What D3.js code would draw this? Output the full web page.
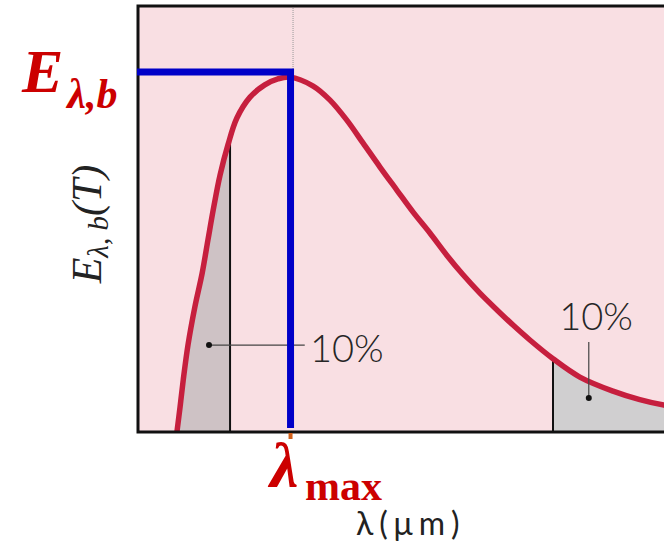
<!DOCTYPE html>
<html>
<head>
<meta charset="utf-8">
<script src="https://cdn.jsdelivr.net/npm/d3@7"></script>
<style>
body { margin: 0; background: #fff; }
svg { display: block; }
</style>
</head>
<body>
<svg id="chart" width="664" height="544"></svg>
<script>
// Curve, both axes in relative units 0..100
const lambda = [7.4, 8.0, 8.6, 9.5, 10.8, 12.2, 13.3, 14.4, 15.6, 17.1, 18.8, 21.3, 24.1, 26.6, 28.9,
                33.3, 36.5, 39.7, 42.8, 46.0, 49.2, 52.3, 55.5, 58.7, 61.8, 65.0, 68.3, 71.3, 74.5,
                78.9, 84.0, 90.3, 95.4, 100, 105]
const energy = [0, 5.9, 12.2, 20.4, 29.3, 37.3, 45.1, 52.8, 60.3, 67.4, 73.7, 78.6, 81.5, 82.9, 83.3,
                81.2, 77.9, 73.2, 67.8, 62.2, 56.8, 51.6, 46.7, 41.5, 36.9, 32.6, 28.6, 25.1, 21.6,
                17.2, 12.9, 9.6, 7.6, 6.3, 5.3]
const lambdaMax = 29.0, eMax = 84.5
// the two 10% tails
const tails = [[7.4, 17.5], [78.9, 105]]
const tailFill = ['#cec2c5', '#d0cfd0']
const tailLabels = ['10%', '10%']

const svg = d3.select('#chart')
const x = d3.scaleLinear([0, 100], [138, 664])
const y = d3.scaleLinear([0, 100], [432, 6])
const pts = lambda.map((l, i) => [l, energy[i]])

const yAt = l => {
    let i = d3.bisector(d => d[0]).left(pts, l)
    if (i <= 0) return pts[0][1]
    if (i >= pts.length) return pts[pts.length-1][1]
    let a = pts[i-1], b = pts[i]
    return a[1] + (b[1] - a[1]) * (l - a[0]) / (b[0] - a[0])
}

/* Plot background */
svg.append('rect')
    .attr('x', x(0)).attr('y', y(100))
    .attr('width', 540).attr('height', y(0) - y(100))
    .attr('fill', '#f9dfe3')

/* Dotted guide up from the peak */
svg.append('line')
    .attr('x1', x(lambdaMax) + 2.5).attr('x2', x(lambdaMax) + 2.5)
    .attr('y1', y(100)).attr('y2', y(eMax))
    .attr('stroke', '#999').attr('stroke-width', 1).attr('stroke-dasharray', '1,1')

/* Shaded tails */
const area = d3.area().x(d => x(d[0])).y0(y(0)).y1(d => y(d[1])).curve(d3.curveCatmullRom)
tails.forEach((t, i) => {
    svg.append('clipPath').attr('id', 'tail' + i)
        .append('rect')
        .attr('x', x(t[0])).attr('y', 0)
        .attr('width', x(t[1]) - x(t[0])).attr('height', y(0))
    svg.append('path')
        .datum(pts)
        .attr('d', area)
        .attr('fill', tailFill[i])
        .attr('clip-path', `url(#tail${i})`)
})
// inner edges of the tails
;[tails[0][1], tails[1][0]].forEach(l => {
    svg.append('line')
        .attr('x1', x(l)).attr('x2', x(l))
        .attr('y1', y(0)).attr('y2', y(yAt(l)))
        .attr('stroke', '#111').attr('stroke-width', 2)
})

/* Curve */
svg.append('path')
    .datum(pts)
    .attr('d', d3.line().x(d => x(d[0])).y(d => y(d[1])).curve(d3.curveCatmullRom))
    .attr('fill', 'none')
    .attr('stroke', '#c61f3e')
    .attr('stroke-width', 5.5)

/* Frame */
svg.append('path')
    .attr('d', `M${x(100) + 10},${y(100)} H${x(0)} V${y(0)} H${x(100) + 10}`)
    .attr('fill', 'none').attr('stroke', '#111').attr('stroke-width', 3)

/* 10% labels with leaders */
const lbl = (sel, t) => sel.text(t)
    .attr('font-family', 'Lato, "Open Sans", sans-serif')
    .attr('font-weight', 300)
    .attr('font-size', 38)
    .attr('fill', '#262626')

svg.append('line')
    .attr('x1', x(13.5)).attr('x2', x(31.7))
    .attr('y1', y(20.4)).attr('y2', y(20.4))
    .attr('stroke', '#444').attr('stroke-width', 1.2)
svg.append('circle').attr('cx', x(13.5)).attr('cy', y(20.4)).attr('r', 3).attr('fill', '#111')
lbl(svg.append('text'), tailLabels[0])
    .attr('x', x(32.7)).attr('y', y(16.4))

svg.append('line')
    .attr('x1', x(85.7)).attr('x2', x(85.7))
    .attr('y1', y(21.1)).attr('y2', y(8.0))
    .attr('stroke', '#444').attr('stroke-width', 1.2)
svg.append('circle').attr('cx', x(85.7)).attr('cy', y(8.0)).attr('r', 3).attr('fill', '#111')
lbl(svg.append('text'), tailLabels[1])
    .attr('x', x(87.1)).attr('y', y(23.9))
    .attr('text-anchor', 'middle')

/* Blue peak markers */
svg.append('path')
    .attr('d', `M${x(0) - 1},${y(eMax)} H${x(lambdaMax)} V${y(0) - 4}`)
    .attr('fill', 'none')
    .attr('stroke', '#0000c8')
    .attr('stroke-width', 7)
    .attr('stroke-linejoin', 'miter')
svg.append('line')
    .attr('x1', x(lambdaMax)).attr('x2', x(lambdaMax))
    .attr('y1', y(0) + 1).attr('y2', y(0) + 7)
    .attr('stroke', '#d2601a').attr('stroke-width', 4)

/* Red labels */
const red = '#cc0000', serif = '"Liberation Serif", "Times New Roman", serif'
let eLbl = svg.append('text')
    .attr('x', 22).attr('y', 92)
    .attr('font-family', serif).attr('font-weight', 'bold').attr('font-style', 'italic')
    .attr('fill', red)
eLbl.append('tspan').attr('font-size', 62).text('E')
eLbl.append('tspan').attr('font-size', 42).attr('dx', 4).attr('dy', 16).text('λ,b')

let mLbl = svg.append('text')
    .attr('font-family', serif).attr('font-weight', 'bold')
    .attr('fill', red)
mLbl.append('tspan').attr('x', 270).attr('y', 487)
    .attr('font-size', 64).attr('font-style', 'italic').text('λ')
mLbl.append('tspan').attr('x', 305).attr('y', 500)
    .attr('font-size', 42).text('max')

/* Axis titles */
svg.append('text')
    .attr('x', 356).attr('y', 535)
    .attr('font-family', 'Lato, "DejaVu Sans", sans-serif')
    .attr('font-size', 32)
    .attr('letter-spacing', 6)
    .attr('fill', '#222')
    .text('λ(μm)')

let yLbl = svg.append('text')
    .attr('transform', 'translate(101,224) rotate(-90)')
    .attr('text-anchor', 'middle')
    .attr('font-family', serif).attr('font-style', 'italic')
    .attr('font-size', 42)
    .attr('fill', '#222')
yLbl.append('tspan').text('E')
yLbl.append('tspan').attr('font-size', 29).attr('dy', 7).text('λ, b')
yLbl.append('tspan').attr('dy', -7).text('(T)')
</script>
</body>
</html>
